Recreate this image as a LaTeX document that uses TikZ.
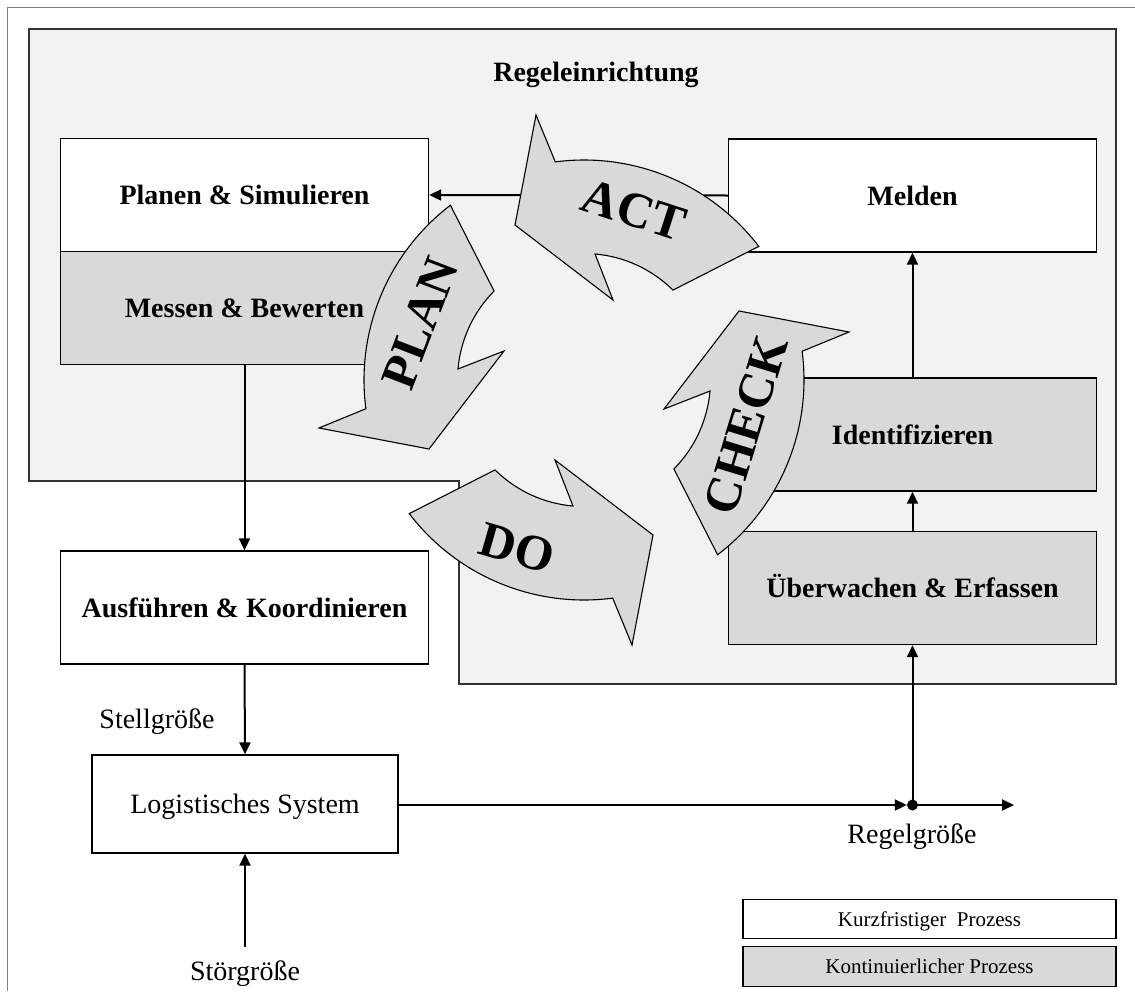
\documentclass[tikz,border=0pt]{standalone}
\usepackage{fontspec}
\setmainfont{Liberation Serif}
\usetikzlibrary{arrows.meta}

\definecolor{regionfill}{HTML}{F2F2F2}
\definecolor{boxgray}{HTML}{D9D9D9}
\definecolor{framegray}{HTML}{808080}

\tikzset{
  pbox/.style={draw=black, line width=1.4pt, minimum width=368pt, minimum height=113pt,
    inner sep=0pt, font=\fontsize{28}{30}\selectfont\bfseries, text height=19.3pt, text depth=0pt},
  whitebox/.style={pbox, fill=white},
  graybox/.style={pbox, fill=boxgray},
  legendbox/.style={draw=black, line width=1.3pt, minimum width=373pt, minimum height=39.5pt,
    inner sep=0pt, font=\fontsize{21}{24}\selectfont, text height=14.5pt, text depth=0pt},
  conn/.style={line width=2pt, -{Triangle[length=12pt,width=11pt]}},
  plaintext/.style={font=\fontsize{28}{30}\selectfont, inner sep=0pt, anchor=base},
  pdca/.style={fill=boxgray, draw=black, line width=1.1pt, line join=miter},
  pdcatext/.style={font=\fontsize{50}{50}\selectfont\bfseries, inner sep=0pt},
}

\begin{document}
\begin{tikzpicture}[x=1pt, y=-1pt]
  \useasboundingbox (0,0) rectangle (1135,991);

  % outer frame
  \draw[framegray, line width=1pt] (7,991) -- (7,7) -- (1135,7);

  % control unit area
  \draw[fill=regionfill, draw=black!80, line width=1.4pt]
    (29,29) -- (1116,29) -- (1116,684) -- (459,684) -- (459,481) -- (29,481) -- cycle;
  \node[plaintext, font=\fontsize{28}{30}\selectfont\bfseries] (title) at (596,81) {Regeleinrichtung};

  % process boxes
  \node[whitebox] (plan)  at (244.5,195)   {Planen \& Simulieren};
  \node[graybox]  (mess)  at (244.5,308)   {Messen \& Bewerten};
  \node[whitebox] (meld)  at (912.5,195.5) {Melden};
  \node[graybox]  (ident) at (912.5,434.5) {Identifizieren};
  \node[graybox]  (ueber) at (912.5,588)   {Überwachen \& Erfassen};
  \node[whitebox] (ausf)  at (244.5,607.5) {Ausführen \& Koordinieren};
  \node[pbox, fill=white, minimum width=306pt, minimum height=98pt,
        font=\fontsize{28}{30}\selectfont] (log) at (245,804) {Logistisches System};

  % legend
  \node[legendbox, fill=white]   (leg1) at (929.5,919)   {Kurzfristiger\ \ Prozess};
  \node[legendbox, fill=boxgray] (leg2) at (929.5,966.5) {Kontinuierlicher Prozess};

  % signal labels
  \node[plaintext] (stell) at (157,728) {Stellgröße};
  \node[plaintext] (stoer) at (245,980) {Störgröße};
  \node[plaintext] (regel) at (912,843) {Regelgröße};
  \coordinate (sgin) at (245,947);
  \coordinate (rgout) at (1014,805);
  \node[circle, fill=black, inner sep=0pt, minimum size=11pt] (dot) at (912.5,805) {};

  % connectors
  \draw[conn] (meld.west) -- (plan.east);
  \draw[conn] (ident.north) -- (meld.south);
  \draw[conn] (ueber.north) -- (ident.south);
  \draw[conn] (mess.south) -- (ausf.north);
  \draw[conn] (ausf.south) -- (log.north);
  \draw[conn] (sgin) -- (log.south);
  \draw[conn] (log.east |- dot) -- (dot.west);
  \draw[conn] (dot.center) -- (rgout);
  \draw[conn] (dot.center) -- (ueber.south);

  % PDCA cycle: one curved block arrow, turned four times about the cycle centre
  \foreach \rot in {0,90,180,270}{
    \begin{scope}[shift={(584,380)}, y=1pt, rotate=\rot]
      \draw[pdca] (97.5:220) arc[start angle=97.5, end angle=37.4, radius=220]
        -- (45.3:126.5) arc[start angle=45.3, end angle=85, radius=126.5]
        -- (29,80) -- (-69,155) -- (-48,265) -- cycle;
    \end{scope}
  }
  \node[pdcatext, rotate=-18] (act)   at (634,210) {ACT};
  \node[pdcatext, rotate=69]  (plnt)  at (420,323) {PLAN};
  \node[pdcatext, rotate=-16] (dotx)  at (517,548) {DO};
  \node[pdcatext, rotate=73]  (chk)   at (746,425) {CHECK};
\end{tikzpicture}
\end{document}
